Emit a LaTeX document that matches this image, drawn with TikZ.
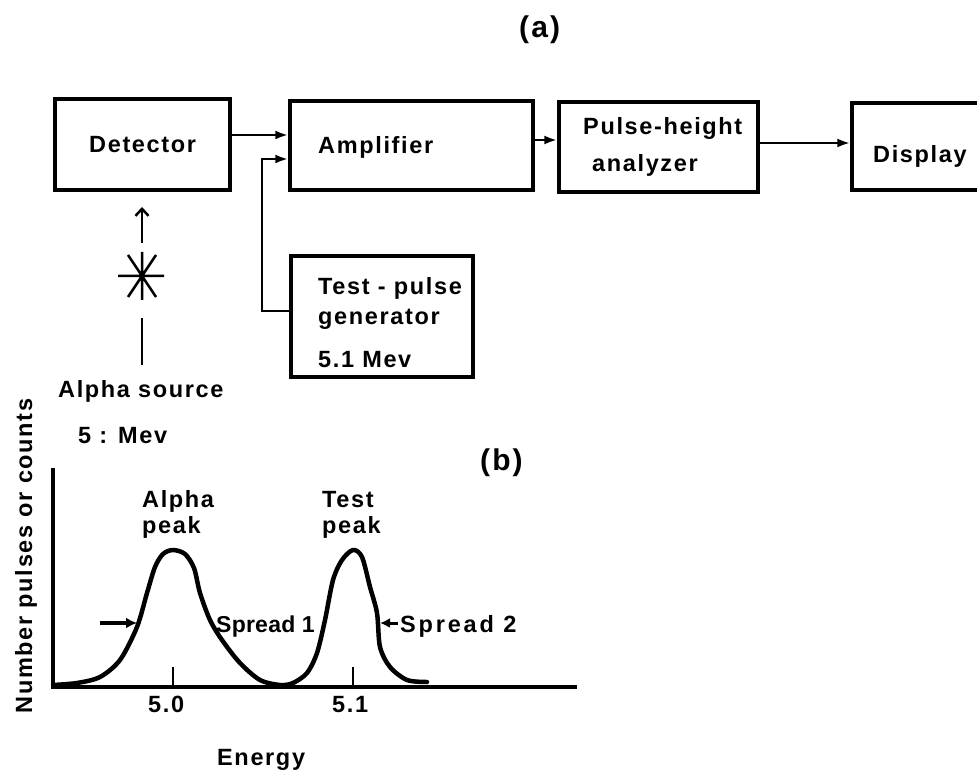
\documentclass[tikz,border=0pt]{standalone}
\usepackage{fontspec}
\setmainfont{Liberation Sans}[LetterSpace=7]
\usetikzlibrary{arrows.meta}
\begin{document}
\begin{tikzpicture}[x=1pt,y=-1pt,
  lbl/.style={font=\bfseries\fontsize{23.5}{30}\selectfont, inner sep=0pt, anchor=base west},
  biglbl/.style={font=\bfseries\fontsize{30}{34}\selectfont, inner sep=0pt, anchor=base west},
  box/.style={draw, line width=3.5pt, inner sep=0pt},
  conn/.style={line width=2.5pt, -{Latex[length=13pt,width=9pt]}},
  thickarr/.style={line width=3.5pt, -{Latex[length=11pt,width=11pt]}},
  curve/.style={line width=4.5pt, line cap=round, line join=round},
]
\useasboundingbox (0,0) rectangle (977,775);

% ---- (a) block diagram ----
\node[biglbl] (la) at (519,38) {(a)};

\node[box, minimum width=175pt, minimum height=91pt] (det) at (142.5,144.5) {};
\node[lbl] (dett) at (89,153) {Detector};

\node[box, minimum width=243pt, minimum height=89pt] (amp) at (411.5,145.5) {};
\node[lbl] (ampt) at (318,154) {Amplifier};

\node[box, minimum width=199pt, minimum height=90pt] (pha) at (658.5,147) {};
\node[lbl] (pha1) at (583,135) {Pulse-height};
\node[lbl] (pha2) at (592,172) {analyzer};

\node[box, minimum width=160pt, minimum height=87pt] (disp) at (932,146.5) {};
\node[lbl] (dispt) at (873,163) {Display};

\node[box, minimum width=182pt, minimum height=121pt] (tpg) at (382,316.5) {};
\node[lbl] (tpg1) at (318,295) {Test - pulse};
\node[lbl] (tpg2) at (318,325) {generator};
\node[lbl] (tpg3) at (318,367) {5.1 Mev};

\draw[conn] (det.east |- 0,135) -- (amp.west |- 0,135);
\coordinate (j) at (262,311);
\draw[conn] (tpg.west |- j) -- (j) |- (amp.west |- 0,159);
\draw[conn] (amp.east |- 0,140) -- (pha.west |- 0,140);
\draw[conn] (pha.east |- 0,143) -- (disp.west |- 0,143);

% alpha source
\coordinate (srcbot) at (142,243);
\coordinate (srctip) at (142,207);
\draw[line width=2.5pt, -{Straight Barb[length=7pt,width=13pt]}] (srcbot) -- (srctip);
\coordinate (star) at (142,276);
\draw[line width=2.5pt] ([yshift=24pt]star) -- ([yshift=-24pt]star)
  ([xshift=-24pt]star) -- ([xshift=22pt]star)
  ([xshift=-14pt,yshift=21pt]star) -- ([xshift=14pt,yshift=-21pt]star)
  ([xshift=14pt,yshift=21pt]star) -- ([xshift=-14pt,yshift=-21pt]star);
\coordinate (s1) at (142,318);
\coordinate (s2) at (142,365);
\draw[line width=2.5pt] (s1) -- (s2);
\node[lbl] (alsrc) at (58,397) {Alpha source};
\node[lbl] (almev) at (78,443) {5 : Mev};

% ---- (b) spectrum ----
\node[biglbl] (lb) at (480,470) {(b)};
\draw[line width=3.5pt, line join=miter] (53,468) -- (53,687) -- (577,687);
\draw[line width=2.5pt] (173,667) -- (173,687) (353,667) -- (353,687);
\node[lbl] (t50) at (148,712) {5.0};
\node[lbl] (t51) at (332,712) {5.1};
\node[lbl] (en) at (217,765) {Energy};
\node[lbl, anchor=base, rotate=90] (ylab) at (32,556) {Number pulses or counts};

\draw[curve] plot[smooth, tension=0.5] coordinates {
 (53,685) (77,683) (100,677) (120,660) (137,627) (147,593) (155,567) (163,554)
 (173,550) (185,554) (194,568) (200,593) (210,620) (222,640) (240,663) (260,680)
 (280,685) (293,683) (307,673) (317,653) (325,620) (333,580) (342,560) (353,550)
 (362,557) (370,587) (377,613) (380,647) (390,667) (407,680) (427,682)};

\node[lbl] (ap1) at (142,507) {Alpha};
\node[lbl] (ap2) at (142,533) {peak};
\node[lbl] (tp1) at (322,507) {Test};
\node[lbl] (tp2) at (322,533) {peak};

\coordinate (a1s) at (100,623);
\coordinate (a1e) at (137,623);
\draw[thickarr] (a1s) -- (a1e);
\node[lbl, font=\bfseries\fontsize{23}{30}\selectfont\addfontfeature{LetterSpace=1}] (sp1) at (216,632) {Spread 1};
\coordinate (a2s) at (398,623);
\coordinate (a2e) at (380,623);
\draw[line width=3pt, -{Latex[length=10pt,width=10pt]}] (a2s) -- (a2e);
\node[lbl, font=\bfseries\fontsize{23.5}{30}\selectfont\addfontfeature{LetterSpace=12}] (sp2) at (400,632) {Spread 2};
\end{tikzpicture}
\end{document}
